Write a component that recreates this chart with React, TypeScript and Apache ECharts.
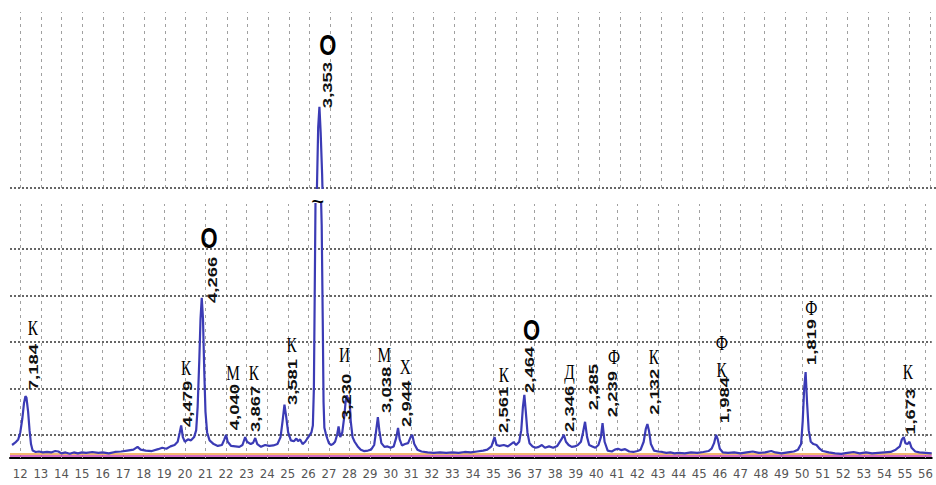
import React, { useEffect, useRef } from 'react';
import * as echarts from 'echarts';

// 2θ tick labels
const TICKS = [12, 13, 14, 15, 16, 17, 18, 19, 20, 21, 22, 23, 24, 25, 26, 27, 28, 29, 30, 31, 32, 33, 34,
  35, 36, 37, 38, 39, 40, 41, 42, 43, 44, 45, 46, 47, 48, 49, 50, 51, 52, 53, 54, 55, 56];

// diffractogram: [2θ, intensity]
const PATTERN: [number, number][] = [
  [11.6, 28], [11.75, 33], [11.9, 40], [12.0, 55], [12.1, 85], [12.18, 118], [12.25, 133], [12.3, 130],
  [12.38, 100], [12.45, 60], [12.52, 30], [12.6, 16], [12.75, 13], [12.9, 14], [13.1, 12], [13.3, 13],
  [13.5, 12], [13.7, 15], [13.85, 14], [14.0, 10], [14.2, 12], [14.4, 9], [14.6, 12], [14.8, 10],
  [15.0, 12], [15.2, 11], [15.5, 13], [15.8, 11], [16.0, 12], [16.3, 10], [16.6, 13], [16.9, 14],
  [17.2, 16], [17.5, 18], [17.7, 24], [17.85, 18], [18.1, 16], [18.4, 15], [18.7, 19], [18.9, 22],
  [19.1, 20], [19.3, 25], [19.5, 28], [19.65, 35], [19.75, 55], [19.82, 70], [19.9, 45], [20.0, 35],
  [20.15, 40], [20.3, 38], [20.45, 45], [20.55, 60], [20.62, 110], [20.7, 210], [20.76, 300], [20.82, 345],
  [20.88, 300], [20.94, 190], [21.0, 100], [21.08, 55], [21.2, 38], [21.4, 30], [21.6, 26], [21.8, 28],
  [21.92, 40], [22.0, 50], [22.08, 35], [22.25, 26], [22.45, 25], [22.65, 24], [22.8, 28], [22.93, 45],
  [23.02, 35], [23.2, 30], [23.32, 33], [23.42, 43], [23.52, 30], [23.7, 24], [23.9, 28], [24.1, 26],
  [24.3, 27], [24.5, 30], [24.65, 45], [24.75, 80], [24.84, 115], [24.92, 90], [25.02, 55], [25.15, 38],
  [25.3, 36], [25.42, 42], [25.5, 36], [25.6, 40], [25.72, 30], [25.85, 35], [25.95, 42], [26.05, 48],
  [26.15, 55], [26.22, 70], [26.27, 150], [26.31, 350], [26.35, 560], [26.41, 690], [26.47, 735],
  [26.53, 680], [26.6, 590], [26.65, 500], [26.7, 300], [26.74, 120], [26.78, 65], [26.85, 52],
  [26.92, 42], [27.0, 32], [27.1, 28], [27.2, 30], [27.3, 35], [27.4, 50], [27.47, 68], [27.55, 45],
  [27.65, 55], [27.75, 90], [27.82, 125], [27.88, 135], [27.93, 120], [28.0, 130], [28.06, 80],
  [28.15, 45], [28.25, 35], [28.4, 25], [28.55, 18], [28.7, 15], [28.9, 16], [29.05, 18], [29.2, 28],
  [29.3, 60], [29.38, 88], [29.45, 60], [29.55, 32], [29.7, 24], [29.85, 25], [30.0, 22], [30.15, 25],
  [30.28, 45], [30.36, 65], [30.44, 40], [30.55, 27], [30.7, 30], [30.85, 32], [30.97, 45], [31.05, 50],
  [31.15, 30], [31.3, 18], [31.5, 14], [31.8, 12], [32.1, 11], [32.4, 12], [32.7, 11], [33.0, 12],
  [33.3, 11], [33.6, 13], [33.9, 12], [34.2, 14], [34.5, 16], [34.7, 18], [34.9, 25], [35.05, 45],
  [35.15, 28], [35.3, 26], [35.5, 28], [35.7, 25], [35.85, 30], [35.98, 34], [36.1, 28], [36.25, 35],
  [36.35, 60], [36.43, 110], [36.5, 136], [36.57, 100], [36.65, 55], [36.75, 32], [36.9, 25], [37.05, 22],
  [37.2, 24], [37.35, 28], [37.5, 22], [37.7, 25], [37.9, 22], [38.1, 26], [38.3, 40], [38.42, 50],
  [38.52, 35], [38.65, 28], [38.8, 24], [38.95, 25], [39.1, 28], [39.25, 35], [39.35, 55], [39.45, 78],
  [39.55, 45], [39.65, 28], [39.8, 25], [39.95, 22], [40.1, 28], [40.22, 45], [40.3, 75], [40.4, 35],
  [40.55, 16], [40.75, 14], [40.9, 18], [41.05, 20], [41.2, 17], [41.4, 19], [41.6, 14], [41.8, 13],
  [42.0, 15], [42.15, 18], [42.3, 35], [42.4, 62], [42.48, 73], [42.56, 58], [42.65, 30], [42.8, 16],
  [43.0, 14], [43.2, 13], [43.4, 11], [43.6, 12], [43.8, 10], [44.0, 11], [44.3, 10], [44.6, 12],
  [44.9, 11], [45.2, 13], [45.45, 15], [45.6, 20], [45.72, 32], [45.82, 50], [45.9, 40], [46.0, 20],
  [46.15, 12], [46.4, 11], [46.7, 12], [47.0, 10], [47.3, 12], [47.6, 14], [47.9, 11], [48.2, 12],
  [48.5, 15], [48.7, 12], [49.0, 10], [49.3, 12], [49.6, 14], [49.8, 18], [49.95, 30], [50.03, 80],
  [50.1, 150], [50.17, 185], [50.24, 120], [50.32, 60], [50.42, 35], [50.55, 30], [50.7, 28], [50.85, 20],
  [51.0, 15], [51.3, 12], [51.6, 10], [51.9, 9], [52.2, 11], [52.5, 13], [52.8, 10], [53.1, 12],
  [53.4, 10], [53.7, 11], [54.0, 12], [54.3, 13], [54.55, 18], [54.75, 25], [54.85, 40], [54.94, 45],
  [55.02, 32], [55.12, 30], [55.22, 35], [55.32, 22], [55.5, 14], [55.7, 12], [56.0, 11], [56.3, 10],
];

// horizontal grid levels of the lower panel, bottom of the upper panel, and reference baselines
const GRID_LEVELS = [50, 150, 250, 350, 450];
const UPPER_BOTTOM = 560;
const BASELINE_LEVELS = [10, 5];

// d-spacing labels (panel 0 = lower, 1 = upper)
const D_LABELS = ['7,184', '4,479', '4,266', '4,040', '3,867', '3,581', '3,353', '3,230', '3,038', '2,944',
  '2,561', '2,464', '2,346', '2,285', '2,239', '2,132', '1,984', '1,819', '1,673'];
const D_LABEL_X = [12.61, 20.12, 21.32, 22.38, 23.40, 25.19, 26.84, 27.85, 29.79, 30.76, 35.45, 36.71,
  38.69, 39.85, 40.77, 42.80, 46.18, 50.45, 55.24];
const D_LABEL_Y = [146, 67, 334, 60, 56, 114, 732, 82, 97, 67, 54, 140, 56, 103, 88, 93, 75, 200, 50];
const D_LABEL_PANEL = [0, 0, 0, 0, 0, 0, 1, 0, 0, 0, 0, 0, 0, 0, 0, 0, 0, 0, 0];

// phase marks
const PHASES = ['К', 'К', 'О', 'М', 'К', 'К', 'О', 'И', 'М', 'Х', 'К', 'О', 'Д', 'Ф', 'К', 'Ф', 'К', 'Ф', 'К'];
const PHASE_X = [12.61, 20.06, 21.18, 22.34, 23.35, 25.19, 26.88, 27.76, 29.69, 30.71, 35.50, 36.85,
  38.69, 40.86, 42.80, 46.09, 46.09, 50.45, 55.14];
const PHASE_Y = [280, 194, 474, 183, 183, 243, 868, 222, 222, 196, 179, 276, 185, 218, 218, 248, 190, 323, 185];
const PHASE_PANEL = [0, 0, 0, 0, 0, 0, 1, 0, 0, 0, 0, 0, 0, 0, 0, 0, 0, 0, 0];

// axis break mark
const BREAK_MARK = { x: 26.45, y: 554, text: '~' };

type Ann = { x: number; y: number; text: string; kind: 'd' | 'phase' | 'circle' | 'break' };

function buildAnnotations(panel: number): Ann[] {
  const out: Ann[] = [];
  D_LABELS.forEach((t, i) => {
    if (D_LABEL_PANEL[i] === panel) out.push({ x: D_LABEL_X[i], y: D_LABEL_Y[i], text: t, kind: 'd' });
  });
  PHASES.forEach((t, i) => {
    if (PHASE_PANEL[i] === panel)
      out.push({ x: PHASE_X[i], y: PHASE_Y[i], text: t, kind: t === 'О' ? 'circle' : 'phase' });
  });
  if (panel === 0) out.push({ ...BREAK_MARK, kind: 'break' });
  return out;
}

function makeRender(items: Ann[]) {
  return (params: any, api: any) => {
    const it = items[params.dataIndex];
    const p = api.coord([api.value(0), api.value(1)]);
    if (it.kind === 'd') {
      return {
        type: 'text', x: p[0], y: p[1], rotation: Math.PI / 2, scaleX: 1.42, scaleY: 1.05,
        style: { text: it.text, fontSize: 13, fontWeight: 'bold', fontFamily: '"Liberation Sans", Arial, sans-serif',
          fill: '#111', align: 'left', verticalAlign: 'middle' },
      };
    }
    if (it.kind === 'circle') {
      return {
        type: 'text', x: p[0], y: p[1], scaleX: 1.1, scaleY: 1.45,
        style: { text: 'O', fontSize: 20, fontWeight: 'bold', fontFamily: '"Liberation Sans", Arial, sans-serif',
          fill: '#000', align: 'center', verticalAlign: 'middle' },
      };
    }
    if (it.kind === 'break') {
      return {
        type: 'text', x: p[0], y: p[1], scaleX: 1.1, scaleY: 1.3,
        style: { text: it.text, fontSize: 20, fontFamily: '"Liberation Sans", Arial, sans-serif',
          fill: '#000', align: 'center', verticalAlign: 'middle' },
      };
    }
    return {
      type: 'text', x: p[0], y: p[1], scaleX: 0.9, scaleY: 1.2,
      style: { text: it.text, fontSize: 17, fontFamily: '"Liberation Serif", "Times New Roman", serif',
        fill: '#000', align: 'center', verticalAlign: 'middle' },
    };
  };
}

export default function App() {
  const ref = useRef<HTMLDivElement>(null);

  useEffect(() => {
    if (!ref.current) return;
    const chart = echarts.init(ref.current, undefined, { renderer: 'svg' });
    const lowerAnn = buildAnnotations(0);
    const upperAnn = buildAnnotations(1);
    const vDash = { color: '#a0a0a0', width: 1, type: [3, 4] as any };
    const dotted = { color: '#666', width: 2, type: [2, 2] as any };
    const verticalLines = TICKS.map((v) => ({ xAxis: v, lineStyle: vDash }));

    chart.setOption({
      animation: false,
      backgroundColor: '#fff',
      grid: [
        { left: 10, right: 0, top: 204, height: 254 },
        { left: 10, right: 0, top: 12, height: 176 },
      ],
      xAxis: [
        {
          gridIndex: 0, type: 'value', min: 11.5, max: 56.3,
          axisLine: { show: true, onZero: false, lineStyle: { color: '#000', width: 2 } },
          axisTick: { show: false, customValues: TICKS },
          axisLabel: { customValues: TICKS, color: '#555', fontSize: 13, margin: 9,
            fontFamily: '"Liberation Sans Narrow", "Arial Narrow", "DejaVu Sans Condensed", sans-serif' },
          splitLine: { show: false },
        },
        {
          gridIndex: 1, type: 'value', min: 11.5, max: 56.3,
          axisLine: { show: false },
          axisTick: { show: false },
          axisLabel: { show: false },
          splitLine: { show: false },
        },
      ],
      yAxis: [
        { gridIndex: 0, type: 'value', min: 0, max: 547, show: false },
        { gridIndex: 1, type: 'value', min: UPPER_BOTTOM, max: 939, show: false },
      ],
      series: [
        {
          type: 'line', xAxisIndex: 0, yAxisIndex: 0, data: PATTERN, showSymbol: false, clip: true, z: 3,
          lineStyle: { color: '#3b3bb5', width: 2.2 }, silent: true,
          markLine: {
            silent: true, symbol: 'none', label: { show: false }, z: 1,
            data: [
              ...verticalLines,
              ...GRID_LEVELS.map((v) => ({ yAxis: v, lineStyle: dotted })),
              { yAxis: BASELINE_LEVELS[0], lineStyle: { color: '#f0a040', width: 1.5, type: 'solid' } },
              { yAxis: BASELINE_LEVELS[1], lineStyle: { color: '#c83cb4', width: 1.5, type: 'solid' } },
            ],
          },
        },
        {
          type: 'line', xAxisIndex: 1, yAxisIndex: 1, data: PATTERN, showSymbol: false, clip: true, z: 3,
          lineStyle: { color: '#3b3bb5', width: 2.2 }, silent: true,
          markLine: {
            silent: true, symbol: 'none', label: { show: false }, z: 1,
            data: [
              ...verticalLines,
              { yAxis: UPPER_BOTTOM, lineStyle: dotted },
            ],
          },
        },
        {
          type: 'custom', xAxisIndex: 0, yAxisIndex: 0, silent: true, z: 5,
          data: lowerAnn.map((a) => [a.x, a.y]),
          renderItem: makeRender(lowerAnn),
        },
        {
          type: 'custom', xAxisIndex: 1, yAxisIndex: 1, silent: true, z: 5,
          data: upperAnn.map((a) => [a.x, a.y]),
          renderItem: makeRender(upperAnn),
        },
      ],
    });
    return () => chart.dispose();
  }, []);

  return (
    <div
      ref={ref}
      style={{ position: 'absolute', left: 0, top: 0, width: 936, height: 485, background: '#fff' }}
    />
  );
}
